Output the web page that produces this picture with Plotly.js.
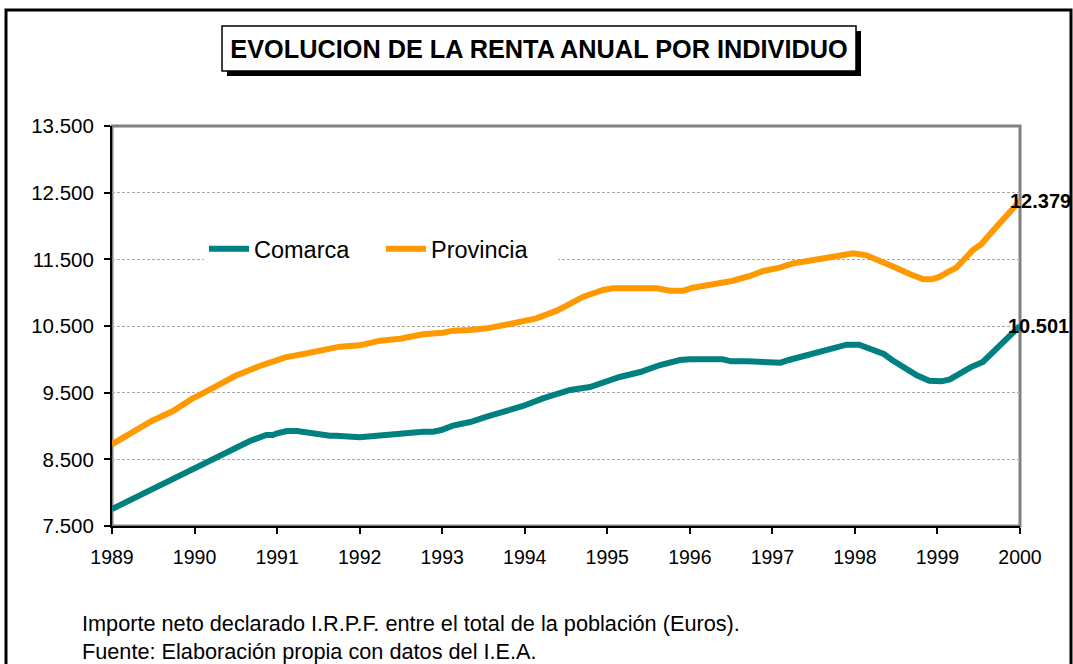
<!DOCTYPE html>
<html>
<head>
<meta charset="utf-8">
<script src="https://cdn.plot.ly/plotly-3.0.1.min.js"></script>
<style>html,body{margin:0;padding:0;background:#fff;}#chart{width:1073px;height:664px;}</style>
</head>
<body>
<div id="chart"></div>
<script>
// ---- data ----
const comarcaYears = [1989.0,1989.22,1989.5,1989.74,1989.98,1990.15,1990.23,1990.51,1990.67,1990.87,1990.95,1991.0,1991.12,1991.24,1991.4,1991.48,1991.64,1991.72,1991.92,1992.0,1992.21,1992.41,1992.61,1992.77,1992.89,1992.99,1993.13,1993.34,1993.54,1993.78,1993.98,1994.22,1994.55,1994.79,1994.98,1995.15,1995.4,1995.64,1995.88,1996.0,1996.4,1996.5,1996.7,1996.9,1997.1,1997.2,1997.4,1997.6,1997.75,1997.9,1998.05,1998.2,1998.35,1998.45,1998.6,1998.75,1998.9,1999.05,1999.15,1999.25,1999.4,1999.55,1999.7,1999.85,2000.0];
const comarcaValues = [7755,7890,8065,8205,8350,8455,8500,8690,8775,8865,8865,8890,8925,8925,8890,8890,8855,8855,8830,8830,8855,8880,8890,8915,8915,8940,9005,9060,9140,9225,9300,9415,9540,9585,9660,9735,9810,9915,9990,10000,10000,9970,9970,9950,9950,9990,10060,10120,10180,10220,10220,10160,10080,9990,9870,9760,9680,9670,9700,9780,9880,9960,10140,10320,10501];
const provinciaYears = [1989.0,1989.22,1989.48,1989.74,1989.98,1990.23,1990.49,1990.79,1991.1,1991.32,1991.56,1991.76,1992.0,1992.25,1992.49,1992.77,1993.01,1993.13,1993.34,1993.54,1993.82,1994.06,1994.14,1994.39,1994.55,1994.71,1994.95,1995.07,1995.6,1995.76,1995.92,1996.04,1996.28,1996.51,1996.73,1996.89,1997.09,1997.25,1997.5,1997.74,1997.9,1997.98,1998.14,1998.34,1998.51,1998.67,1998.83,1998.93,1999.03,1999.15,1999.23,1999.43,1999.53,1999.68,1999.84,1999.92,2000.0];
const provinciaValues = [8725,8890,9075,9225,9415,9575,9750,9900,10030,10080,10140,10190,10210,10280,10310,10375,10400,10430,10440,10465,10530,10600,10615,10730,10840,10940,11040,11065,11065,11030,11030,11075,11125,11175,11250,11325,11375,11440,11490,11550,11590,11590,11560,11465,11365,11275,11200,11200,11240,11325,11375,11640,11725,11940,12175,12265,12379];
const seriesNames = ['Comarca','Provincia'];
const xTickVals = [1989,1990,1991,1992,1993,1994,1995,1996,1997,1998,1999,2000];
const xTickText = ['1989','1990','1991','1992','1993','1994','1995','1996','1997','1998','1999','2000'];
const yTickVals = [7500,8500,9500,10500,11500,12500,13500];
const chartTitle = 'EVOLUCION DE LA RENTA ANUAL POR INDIVIDUO';
const notes = ['Importe neto declarado I.R.P.F. entre el total de la población (Euros).','Fuente: Elaboración propia con datos del I.E.A.'];

// ---- layout helpers (pixel -> paper) ----
const L = 112, R = 1020, T = 126, B = 526;
const px = p => (p - L) / (R - L);
const py = p => (B - p) / (B - T);
const FONT = 'Liberation Sans, Arial, sans-serif';
const fmt = v => Math.round(v).toString().replace(/\B(?=(\d{3})+(?!\d))/g, '.');

const traces = [
  {x: comarcaYears, y: comarcaValues, name: seriesNames[0], type: 'scatter', mode: 'lines',
   line: {color: '#008080', width: 6}},
  {x: provinciaYears, y: provinciaValues, name: seriesNames[1], type: 'scatter', mode: 'lines',
   line: {color: '#FF9900', width: 6}}
];

const lastC = comarcaValues[comarcaValues.length-1];
const lastP = provinciaValues[provinciaValues.length-1];

const layout = {
  width: 1073, height: 664,
  margin: {l: L, r: 1073 - R, t: T, b: 664 - B},
  paper_bgcolor: '#fff', plot_bgcolor: '#fff',
  separators: ',.',
  font: {family: FONT, color: '#000', size: 20},
  showlegend: true,
  title: {text: '<b>' + chartTitle + '</b>', font: {family: FONT, size: 25.3, color: '#000'},
          xref: 'container', yref: 'container', x: 539/1073, y: 1 - 49/664, xanchor: 'center', yanchor: 'middle'},
  legend: {orientation: 'h', x: px(204), y: py(227), xanchor: 'left', yanchor: 'top',
           bgcolor: '#fff', font: {family: FONT, size: 23.5, color: '#000'}, itemwidth: 40, tracegroupgap: 0,
           entrywidth: 122, entrywidthmode: 'pixels'},
  xaxis: {range: [1989, 2000], tickvals: xTickVals, ticktext: xTickText, showgrid: false, zeroline: false,
          showline: true, linecolor: '#000', linewidth: 2, ticks: 'outside', ticklen: 6, tickcolor: '#000', tickwidth: 2,
          tickfont: {size: 19.5}, ticklabelstandoff: 7},
  yaxis: {range: [7500, 13500], tickvals: yTickVals, tickformat: ',d', showgrid: true, gridcolor: '#a8a8a8', griddash: '3px,2px', gridwidth: 1,
          zeroline: false, showline: true, linecolor: '#000', linewidth: 2, ticks: 'outside', ticklen: 6, tickcolor: '#000', tickwidth: 2,
          tickfont: {size: 20.5}, ticklabelstandoff: 6},
  shapes: [
    {type: 'rect', xref: 'paper', yref: 'paper', x0: 0, x1: 1, y0: 0, y1: 1, line: {color: '#808080', width: 3}, layer: 'below'},
    {type: 'rect', xref: 'paper', yref: 'paper', x0: px(6), x1: px(1071), y0: py(700), y1: py(10), line: {color: '#000', width: 3}, layer: 'below'},
    {type: 'rect', xref: 'paper', yref: 'paper', x0: px(227), x1: px(861), y0: py(76), y1: py(31), fillcolor: '#000', line: {width: 0}, layer: 'below'},
    {type: 'rect', xref: 'paper', yref: 'paper', x0: px(222), x1: px(856), y0: py(71), y1: py(26), fillcolor: '#fff', line: {color: '#000', width: 1.5}, layer: 'below'}
  ],
  annotations: [
    {x: 2000, y: lastP, xref: 'x', yref: 'y', text: '<b>' + fmt(lastP) + '</b>', showarrow: false,
     xanchor: 'left', yanchor: 'middle', xshift: -12, font: {size: 20, family: FONT, color: '#000'}},
    {x: 2000, y: lastC, xref: 'x', yref: 'y', text: '<b>' + fmt(lastC) + '</b>', showarrow: false,
     xanchor: 'left', yanchor: 'middle', xshift: -14, font: {size: 20, family: FONT, color: '#000'}},
    {x: px(80), y: py(623), xref: 'paper', yref: 'paper', text: notes[0], showarrow: false,
     xanchor: 'left', yanchor: 'middle', font: {size: 21.7, family: FONT, color: '#000'}},
    {x: px(80), y: py(651), xref: 'paper', yref: 'paper', text: notes[1], showarrow: false,
     xanchor: 'left', yanchor: 'middle', font: {size: 21.7, family: FONT, color: '#000'}}
  ]
};

Plotly.newPlot('chart', traces, layout, {displayModeBar: false, staticPlot: true});
</script>
</body>
</html>
